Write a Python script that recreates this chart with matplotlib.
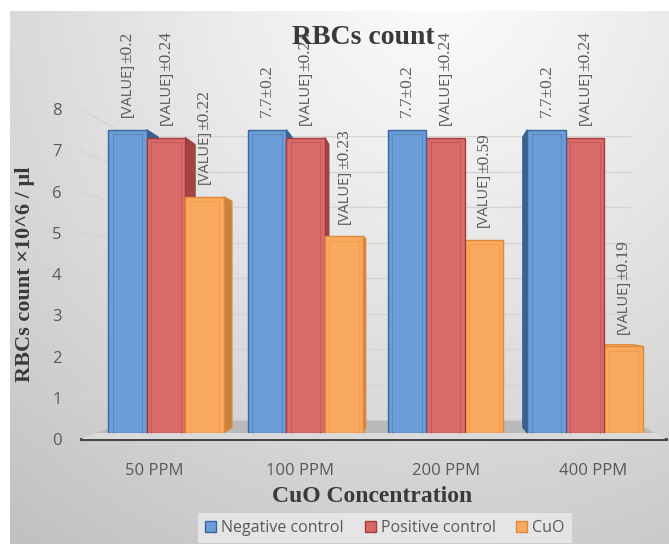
import numpy as np
import matplotlib
matplotlib.use("Agg")
import matplotlib.pyplot as plt
from matplotlib.patches import Polygon, Patch
from matplotlib.lines import Line2D
from matplotlib.transforms import IdentityTransform

# ---------------- data ----------------
categories = ["50 PPM", "100 PPM", "200 PPM", "400 PPM"]
series_names = ["Negative control", "Positive control", "CuO"]
negative_control = [7.7, 7.7, 7.7, 7.7]
positive_control = [7.5, 7.5, 7.5, 7.5]
cuo = [6.0, 5.0, 4.9, 2.2]
negative_labels = ["[VALUE]±0.2", "7.7±0.2", "7.7±0.2", "7.7±0.2"]
positive_labels = ["[VALUE]±0.24", "[VALUE]±0.24", "[VALUE]±0.24", "[VALUE]±0.24"]
cuo_labels = ["[VALUE]±0.22", "[VALUE]±0.23", "[VALUE]±0.59", "[VALUE]±0.19"]
y_ticks = [0, 1, 2, 3, 4, 5, 6, 7, 8]

# ---------------- style ----------------
face_colors = ["#6c9dd9", "#d96a6a", "#f9aa5e"]
edge_colors = ["#3a6699", "#a33b3b", "#e08a38"]
side_colors = ["#3d5f8c", "#a04444", "#c7823f"]
top_colors = ["#8fb4e3", "#e89090", "#fbc088"]
text_gray = "#595959"
title_gray = "#3a3a3a"
sans = ["Open Sans", "DejaVu Sans"]
serif = ["Liberation Serif", "DejaVu Serif"]

W, H = 669, 544
fig = plt.figure(figsize=(W / 100, H / 100), dpi=100)
fig.patch.set_facecolor("white")

# soft radial background of the chart area
bg = fig.add_axes([10 / W, 0, 1 - 10 / W, 1 - 11 / H], zorder=-10)
yy, xx = np.mgrid[11:H, 10:W]
dist = np.hypot(xx - 440, yy + 10)
shade = np.clip(251 - 58 * (dist / 690) ** 1.15, 0, 255) / 255
bg.imshow(np.dstack([shade, shade, shade]), aspect="auto", interpolation="bilinear")
bg.axis("off")

# perspective: planes scaled about a vanishing point
vx, vy = 420 / W, 239 / H


def scaled_rect(rect, s):
    l, b, w, h = rect
    return [vx + s * (l - vx), vy + s * (b - vy), s * w, s * h]


front_rect = [96.2 / W, 111 / H, 558.6 / W, 315.2 / H]
s_back_wall, s_bar_back, s_front_edge = 0.903, 0.958, 1.047

axb = fig.add_axes(scaled_rect(front_rect, s_back_wall), zorder=1)
axt = fig.add_axes(scaled_rect(front_rect, s_front_edge), zorder=2)
ax = fig.add_axes(front_rect, zorder=3)
for a in (axb, axt, ax):
    a.set_xlim(-0.5, len(categories) - 0.5)
    a.set_ylim(0, 8)
    a.patch.set_alpha(0)

# back wall gridlines
axb.set_yticks(y_ticks)
axb.set_xticks([])
axb.grid(axis="y", color="#d4d4d4", lw=1)
axb.tick_params(left=False, labelleft=False)
for sp in axb.spines.values():
    sp.set_visible(False)

# front edge axis: tick labels and base line
axt.set_xticks(range(len(categories)), categories)
axt.set_yticks(y_ticks)
axt.tick_params(length=0, colors=text_gray, labelsize=12)
axt.tick_params(axis="y", pad=14)
axt.tick_params(axis="x", pad=17)
for lab in axt.get_xticklabels() + axt.get_yticklabels():
    lab.set_family(sans)
for name, sp in axt.spines.items():
    sp.set_visible(name == "bottom")
axt.spines["bottom"].set_color("#454545")
axt.spines["bottom"].set_linewidth(2.2)

ax.set_xticks([])
ax.set_yticks([])
for sp in ax.spines.values():
    sp.set_visible(False)

ident = IdentityTransform()
fv = np.array([vx * W, vy * H])


def proj(p, s):
    return fv + s * (np.asarray(p) - fv)


# side wall gridlines
for v in y_ticks[1:]:
    p1 = axt.transData.transform((-0.5, v))
    p2 = axb.transData.transform((-0.5, v))
    ax.add_line(Line2D([p1[0], p2[0]], [p1[1], p2[1]], color="#d4d4d4", lw=1,
                       transform=ident, clip_on=False, zorder=0.5))

# floor
x0, x1 = -0.5, len(categories) - 0.5
f_front = [ax.transData.transform((x, 0)) for x in (x0, x1)]
f_back = [axb.transData.transform((x, 0)) for x in (x0, x1)]
f_edge = [axt.transData.transform((x, 0)) for x in (x0, x1)]
ax.add_patch(Polygon([f_edge[0], f_edge[1], f_front[1], f_front[0]], closed=True,
                     facecolor="#dadada", edgecolor="none", transform=ident,
                     clip_on=False, zorder=0.6))
ax.add_patch(Polygon([f_front[0], f_front[1], f_back[1], f_back[0]], closed=True,
                     facecolor="#bababa", edgecolor="none", transform=ident,
                     clip_on=False, zorder=0.7))

# bars
series = [negative_control, positive_control, cuo]
labels = [negative_labels, positive_labels, cuo_labels]
bw = 0.2757
offsets = [-bw, 0.0, bw]

for j, vals in enumerate(series):
    xs = [i + offsets[j] for i in range(len(categories))]
    bars = ax.bar(xs, vals, width=bw, color=face_colors[j], edgecolor=edge_colors[j],
                  lw=1.0, label=series_names[j])
    for k, (rect, x, v) in enumerate(zip(bars.patches, xs, vals)):
        l = ax.transData.transform((x - bw / 2, 0))
        r = ax.transData.transform((x + bw / 2, v))
        bl, br = np.array([l[0], l[1]]), np.array([r[0], l[1]])
        tl, tr = np.array([l[0], r[1]]), np.array([r[0], r[1]])
        cx = 0.5 * (l[0] + r[0])
        z = 5 - abs(cx - fv[0]) / 1000.0
        rect.set_zorder(z + 0.0005)
        if r[0] < fv[0]:
            side = [tr, proj(tr, s_bar_back), proj(br, s_bar_back), br]
        elif l[0] > fv[0]:
            side = [tl, proj(tl, s_bar_back), proj(bl, s_bar_back), bl]
        else:
            side = None
        if side is not None:
            ax.add_patch(Polygon(side, closed=True, facecolor=side_colors[j],
                                 edgecolor=edge_colors[j], lw=0.8, transform=ident,
                                 clip_on=False, zorder=z))
        if r[1] < fv[1]:
            top = [tl, tr, proj(tr, s_bar_back), proj(tl, s_bar_back)]
            ax.add_patch(Polygon(top, closed=True, facecolor=top_colors[j],
                                 edgecolor=edge_colors[j], lw=0.8, transform=ident,
                                 clip_on=False, zorder=z + 0.0002))
        # bevel highlight on the front face
        ins = 4.5
        bev = [bl + [ins, 0], tl + [ins, -ins], tr + [-ins, -ins], br + [-ins, 0]]
        ax.add_line(Line2D([p[0] for p in bev], [p[1] for p in bev], color=edge_colors[j],
                           lw=0.8, alpha=0.35, transform=ident, clip_on=False,
                           zorder=z + 0.0008))

        # data label: "[VALUE]" placeholder in sans, the rest in serif
        text = labels[j][k]
        head, tail = text.split("±")
        if head == "[VALUE]":
            first = ax.annotate(head, xy=(x, v), xytext=(0, 9), textcoords="offset points",
                                rotation=90, ha="center", va="bottom", fontsize=10.5,
                                family=sans, color=text_gray, annotation_clip=False,
                                zorder=20)
            ax.annotate("±" + tail, xy=(0.5, 1.0), xycoords=first, rotation=90,
                        ha="center", va="bottom", fontsize=12.5, family=serif,
                        color=text_gray, annotation_clip=False, zorder=20)
        else:
            ax.annotate(text, xy=(x, v), xytext=(0, 9), textcoords="offset points",
                        rotation=90, ha="center", va="bottom", fontsize=12.5,
                        family=serif, color=text_gray, annotation_clip=False, zorder=20)

# titles
fig.text(363 / W, 1 - 38 / H, "RBCs count", ha="center", va="center", fontsize=20,
         fontweight="bold", family=serif, color=title_gray, zorder=30)
fig.text(25 / W, 1 - 274 / H, "RBCs count ×10^6 / µl", ha="center", va="center",
         rotation=90, fontsize=16, fontweight="bold", family=serif, color=title_gray)
fig.text(372 / W, 1 - 497 / H, "CuO Concentration", ha="center", va="center",
         fontsize=17, fontweight="bold", family=serif, color=title_gray)

# legend
handles = [Patch(facecolor=face_colors[j], edgecolor=edge_colors[j], lw=1)
           for j in range(3)]
leg = fig.legend(handles, series_names, loc="center", bbox_to_anchor=(385 / W, 1 - 528 / H),
                 ncol=3, frameon=True, fancybox=False, handlelength=0.7,
                 handleheight=0.7, handletextpad=0.3, columnspacing=1.3, borderpad=0.45,
                 prop={"family": sans, "size": 11.5})
leg.get_frame().set_facecolor("#ebebeb")
leg.get_frame().set_edgecolor("none")
for t in leg.get_texts():
    t.set_color(text_gray)

fig.savefig("out.png", dpi=100)
